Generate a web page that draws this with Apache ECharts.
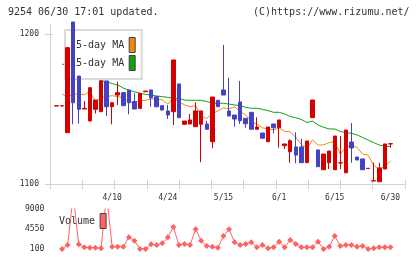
<!DOCTYPE html>
<html><head><meta charset="utf-8">
<script src="https://cdn.jsdelivr.net/npm/echarts@6/dist/echarts.min.js"></script>
<style>html,body{margin:0;padding:0;background:#fff}#c{width:420px;height:259px}</style>
</head><body><div id="c"></div>
<script>
const dateLabels = ['4/10','4/24','5/15','6/1','6/15','6/30'];
const dateLabelIdx = [10,20,30,40,50,60];
const priceTicks = [1100, 1200];
const volumeTicks = [100, 4550, 9000];

const opens = [1152,1152,1134.2,1208,1172,1150,1142,1149.8,1148.2,1168.7,1151.5,1159.3,1160.9,1162.7,1155,1150.4,1161.5,1162.7,1158.2,1152.2,1148.7,1148.2,1166.7,1139.8,1140,1138.2,1139.8,1140,1128.2,1155.8,1162.7,1148.7,1146,1154.7,1143.8,1147.8,1136.5,1134,1128.2,1140,1137.5,1125.5,1121.5,1124.7,1124.7,1114.2,1144.2,1122.7,1109.5,1114.2,1109.5,1114,1107.5,1128,1118,1116.7,1110.3,1102,1101.5,1110,1126.7];
const closes = [1152.2,1152.2,1190.9,1154.2,1149.8,1150.5,1164.2,1156,1168.7,1151.5,1154.2,1160.9,1152.2,1154.2,1150,1160.4,1162,1157.5,1151.5,1149.3,1146,1182.7,1144.2,1142,1142.7,1148.7,1148.7,1136.5,1158,1151.5,1159.3,1145.3,1143.3,1142.2,1140.2,1136.5,1138,1130.5,1138,1137.5,1142.7,1126.7,1128.9,1119.3,1114.2,1128.7,1156,1111.5,1120,1122,1132,1114.2,1136,1124,1116,1109.5,1110.5,1102.2,1110.7,1126.7,1126.9];
const lows = [1152,1152,1134.2,1139.8,1140.2,1150,1142,1147,1148.2,1145.3,1139.8,1152.7,1152.2,1146.5,1150,1150.4,1161.5,1151.5,1151.5,1149.3,1143.3,1139.3,1144.2,1139.8,1140,1138.2,1114.5,1136.5,1123.8,1151.5,1159.3,1145.3,1138.2,1140,1137.5,1136.5,1136.5,1130.5,1128.2,1133.8,1124.2,1123.3,1114.2,1113.8,1114.2,1114.2,1144.2,1111.5,1109.5,1110,1109.5,1110,1107.5,1114.2,1116,1109.5,1110.3,1102,1101.5,1110,1124.2];
const highs = [1152.2,1152.2,1190.9,1208,1172,1155.3,1164.2,1156,1168.7,1168.7,1154.2,1168.2,1160.9,1162.7,1160.5,1160.4,1162,1162.7,1158.2,1152.2,1152.7,1182.7,1166.7,1142,1146.7,1154.5,1148.7,1142.2,1158,1155.8,1192.7,1170.9,1146,1168.7,1143.8,1147.8,1144.5,1134,1138,1140,1142.7,1126.7,1129.8,1134.5,1130,1128.7,1156,1122.7,1120,1122,1132,1132,1136,1140.7,1118,1116.7,1110.5,1114.2,1114.2,1126.7,1126.9];
const ma5 = [null,1160,1158,1160,1159.8,1159.5,1161.9,1154.9,1157.8,1158.2,1158.9,1158.3,1157.5,1154.6,1154.3,1155.5,1155.8,1156.8,1156.3,1156.1,1153.3,1157.4,1154.7,1152.8,1151.5,1152.1,1145.3,1143.7,1146.9,1148.7,1150.8,1150.1,1151.5,1148.3,1146.1,1141.5,1140,1137.5,1136.6,1136.1,1137.3,1135.1,1134.8,1131,1126.4,1123.6,1129.4,1125.9,1126.1,1127.6,1128.3,1119.9,1124.8,1125.6,1124.4,1119.9,1119.2,1112.4,1109.7,1111.9,1115.3];
const ma25 = [null,1180,1179,1177.5,1176,1174,1172,1170.5,1169,1168,1167,1166,1164,1162.5,1161.5,1160.5,1159.7,1159.3,1158.7,1158.2,1157.8,1157.3,1157,1156,1155.8,1155.8,1155.8,1155,1153.8,1153.8,1153.8,1153.3,1152.7,1152.2,1151.1,1150.5,1150.5,1149.8,1148.9,1147.8,1147.8,1146.7,1145,1144.2,1143,1141,1142,1139.3,1137.8,1136.7,1136.7,1135,1134.4,1133.8,1132.7,1131,1129.3,1127.6,1126,1125.3,1124.9];
const volumes = [null,100,990,12000,1145,480,400,400,250,12000,610,610,610,2700,1950,100,100,1150,990,1370,2700,5000,990,1210,990,4480,1950,770,610,400,3000,4480,1590,990,1210,1590,480,990,250,480,1720,480,2100,1210,480,480,480,1720,100,610,3000,770,990,990,610,770,100,250,480,480,480];

const idx = closes.map((_, i) => String(i));
const candles = opens.map((o, i) => [o, closes[i], lows[i], highs[i]]);
const FONT = '"DejaVu Sans Mono", monospace';
const GRAY = '#d2d2d2';
const TXT = '#333';
const UP = '#d40000', DOWN = '#4343c3';
const plain = (v) => String(v);

const chart = echarts.init(document.getElementById('c'), null, {renderer: 'canvas'});
chart.setOption({
  animation: false,
  textStyle: {fontFamily: FONT},
  grid: [
    {left: 50, top: 25, width: 355, height: 159},
    {left: 53.72, top: 25, width: 339.47, height: 159},
    {left: 53.72, top: 209, width: 339.47, height: 40}
  ],
  xAxis: [
    {gridIndex: 0, type: 'value', position: 'bottom', min: 0, max: 11, interval: 1,
     axisLine: {show: true, onZero: false, lineStyle: {color: GRAY, width: 1}},
     axisTick: {show: true, length: 5, lineStyle: {color: GRAY}},
     axisLabel: {show: false}, splitLine: {show: false}},
    {gridIndex: 0, type: 'value', position: 'bottom', min: 0, max: 11, interval: 1,
     axisLine: {show: false, onZero: false},
     axisTick: {show: true, inside: true, length: 4, lineStyle: {color: GRAY}},
     axisLabel: {show: false}, splitLine: {show: false}},
    {gridIndex: 1, type: 'category', position: 'bottom', data: idx, boundaryGap: true,
     axisLine: {show: false, onZero: false}, axisTick: {show: false}, splitLine: {show: false},
     axisLabel: {interval: (i) => dateLabelIdx.includes(i),
       formatter: (v, i) => { const k = dateLabelIdx.indexOf(i); return k >= 0 ? dateLabels[k] : ''; },
       margin: 10, fontSize: 8, color: TXT, fontFamily: FONT}},
    {gridIndex: 2, type: 'category', data: idx, boundaryGap: true, show: false}
  ],
  yAxis: [
    {gridIndex: 0, type: 'value', position: 'left', min: 1100, max: 1206, interval: 100,
     axisLine: {show: true, onZero: false, lineStyle: {color: GRAY}},
     axisTick: {show: true, length: 5, customValues: priceTicks, lineStyle: {color: GRAY}},
     axisLabel: {customValues: priceTicks, formatter: plain, fontSize: 8, color: TXT, margin: 11, fontFamily: FONT},
     splitLine: {show: false}},
    {gridIndex: 0, type: 'value', position: 'left', min: 1100, max: 1206, interval: 100,
     axisLine: {show: false, onZero: false},
     axisTick: {show: true, inside: true, length: 3, customValues: priceTicks, lineStyle: {color: GRAY}},
     axisLabel: {show: false}, splitLine: {show: false}},
    {gridIndex: 1, type: 'value', min: 1100, max: 1206, show: false},
    {gridIndex: 2, type: 'value', min: 100, max: 9000, interval: 4450,
     axisLine: {show: false}, axisTick: {show: false}, splitLine: {show: false},
     axisLabel: {customValues: volumeTicks, formatter: plain, fontSize: 8, color: TXT, margin: 9.4, fontFamily: FONT}}
  ],
  legend: [
    {data: [{name: '5-day MA', icon: 'rect'}, {name: '25-day MA', icon: 'rect'}],
     orient: 'vertical', align: 'right', left: 65, top: 30, padding: [7, 6, 8, 5],
     itemWidth: 6, itemHeight: 15, itemGap: 2, backgroundColor: '#fff',
     borderColor: '#dadada', borderWidth: 2, selectedMode: false, z: 3,
     textStyle: {fontFamily: FONT, fontSize: 10, color: TXT},
     itemStyle: {borderColor: '#444', borderWidth: 1}},
    {data: [{name: 'Volume', icon: 'rect'}],
     orient: 'vertical', align: 'right', left: 59, top: 213, padding: 0,
     itemWidth: 6, itemHeight: 15, selectedMode: false,
     textStyle: {fontFamily: FONT, fontSize: 10, color: TXT},
     itemStyle: {borderColor: '#444', borderWidth: 1}}
  ],
  graphic: [
    {type: 'text', left: 8, top: 7, style: {text: '9254 06/30 17:01 updated.', font: '10px ' + FONT, fill: TXT}},
    {type: 'text', left: 253, top: 7, style: {text: '(C)https://www.rizumu.net/', font: '10px ' + FONT, fill: TXT}}
  ],
  series: [
    {type: 'line', name: '5-day MA', xAxisIndex: 2, yAxisIndex: 2, data: ma5, symbol: 'none',
     lineStyle: {color: '#f0890f', width: 1}, itemStyle: {color: '#f0890f'}, z: 1},
    {type: 'line', name: '25-day MA', xAxisIndex: 2, yAxisIndex: 2, data: ma25, symbol: 'none',
     lineStyle: {color: '#12a012', width: 1}, itemStyle: {color: '#12a012'}, z: 1},
    {type: 'candlestick', xAxisIndex: 2, yAxisIndex: 2, data: candles, barWidth: 4, clip: true, z: 5,
     itemStyle: {color: UP, color0: DOWN, borderColor: UP, borderColor0: DOWN, borderWidth: 1}},
    {type: 'line', name: 'Volume', xAxisIndex: 3, yAxisIndex: 3, data: volumes, clip: true,
     symbol: 'diamond', symbolSize: 6, showAllSymbol: true,
     lineStyle: {color: '#ff6262', width: 1}, itemStyle: {color: '#ff6262'}, z: 2}
  ]
});
</script></body></html>
